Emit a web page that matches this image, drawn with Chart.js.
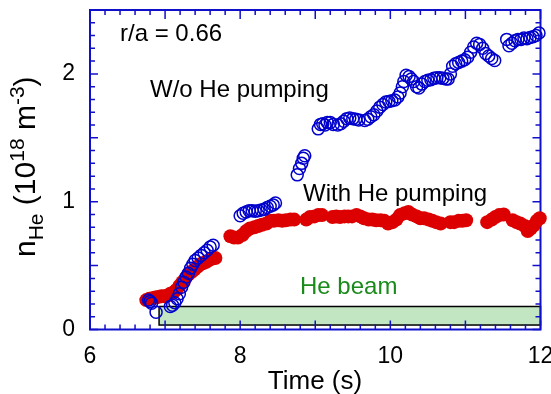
<!DOCTYPE html>
<html><head><meta charset="utf-8">
<script src="https://cdn.jsdelivr.net/npm/chart.js@4/dist/chart.umd.min.js"></script>
<style>html,body{margin:0;padding:0;background:#fff;}</style>
</head><body>
<canvas id="c" width="551" height="394"></canvas>
<script>
// ---- data ----
const blueTime = [6.78,6.80,6.82,6.88,
  7.07,7.10,7.13,7.16,7.19,7.22,7.25,7.28,7.31,7.34,7.37,7.40,7.44,7.48,7.52,7.56,7.60,7.64,
  8.00,8.04,8.08,8.12,8.16,8.20,8.24,8.28,8.32,8.36,8.40,8.44,8.47,
  8.76,8.79,8.82,8.84,8.86,
  9.04,9.07,9.10,9.13,9.16,9.20,9.24,9.30,9.34,9.38,9.42,9.46,9.50,9.54,9.58,9.66,9.70,9.74,9.78,9.82,9.86,9.90,9.94,9.98,
  10.02,10.06,10.10,10.13,10.16,10.18,10.21,10.25,10.28,10.31,10.35,10.38,10.42,10.46,10.50,10.54,10.58,10.62,10.66,10.70,10.74,10.77,
  10.80,10.83,10.87,10.91,10.95,10.99,11.03,11.07,11.11,11.15,11.19,11.23,11.27,11.31,11.35,11.39,
  11.55,11.58,11.62,11.66,11.70,11.74,11.78,11.82,11.86,11.90,11.94,11.98];
const blueDensity = [0.23,0.22,0.205,0.135,
  0.18,0.19,0.21,0.24,0.28,0.33,0.37,0.41,0.44,0.48,0.51,0.54,0.56,0.58,0.60,0.62,0.645,0.66,
  0.89,0.91,0.92,0.93,0.93,0.925,0.93,0.935,0.94,0.955,0.965,0.975,0.99,
  1.21,1.26,1.30,1.34,1.36,
  1.57,1.605,1.61,1.60,1.62,1.62,1.605,1.60,1.61,1.63,1.65,1.655,1.65,1.645,1.64,1.635,1.645,1.665,1.68,1.71,1.74,1.76,1.78,1.785,
  1.79,1.795,1.82,1.85,1.90,1.94,1.99,1.98,1.96,1.94,1.90,1.89,1.92,1.94,1.95,1.955,1.965,1.97,1.97,1.965,1.96,1.96,
  2.00,2.06,2.08,2.09,2.10,2.11,2.13,2.17,2.21,2.24,2.23,2.20,2.16,2.14,2.12,2.105,
  2.27,2.22,2.24,2.26,2.27,2.27,2.28,2.275,2.285,2.29,2.30,2.32];

const redTime = [6.75,6.79,6.83,6.87,6.91,6.95,6.99,7.03,7.07,7.11,7.15,7.19,7.23,7.27,7.31,7.35,7.39,7.43,7.47,7.51,7.55,7.59,7.63,7.67,
  7.87,7.92,7.97,8.03,8.08,8.13,8.19,8.24,8.29,8.35,8.40,8.45,8.51,8.56,8.61,8.67,8.72,
  8.88,8.93,8.99,9.04,9.09,
  9.23,9.28,9.33,9.39,9.44,9.49,9.55,9.60,9.65,9.71,9.76,9.81,9.87,9.92,9.97,10.03,10.08,10.13,10.19,10.24,10.29,10.35,10.40,10.45,10.51,10.56,10.61,10.67,
  10.80,10.85,10.91,10.96,11.01,
  11.29,11.35,11.40,11.45,11.51,
  11.63,11.68,11.73,11.79,11.83,11.87,11.91,11.95,11.99];
const redDensity = [0.23,0.24,0.245,0.25,0.255,0.26,0.26,0.265,0.28,0.29,0.31,0.34,0.37,0.40,0.43,0.45,0.47,0.49,0.51,0.52,0.53,0.545,0.555,0.56,
  0.73,0.72,0.72,0.74,0.77,0.79,0.80,0.81,0.82,0.83,0.85,0.85,0.855,0.85,0.855,0.86,0.86,
  0.86,0.88,0.885,0.895,0.895,
  0.88,0.885,0.88,0.885,0.885,0.885,0.895,0.885,0.87,0.86,0.86,0.855,0.855,0.85,0.83,0.84,0.86,0.895,0.91,0.92,0.90,0.885,0.87,0.87,0.86,0.85,0.84,0.83,
  0.84,0.84,0.85,0.85,0.855,
  0.84,0.86,0.88,0.895,0.90,
  0.855,0.84,0.83,0.81,0.77,0.79,0.815,0.85,0.87];

const xTickLabels = [6, 8, 10, 12];
const yTickLabels = [0, 1, 2];
const beamTime = [6.92, 12];
const beamLevel = [0.035, 0.18];

// ---- styling ----
const FONT = "'Liberation Sans', Arial, Helvetica, sans-serif";
const AXIS = '#1010cc';

const decor = {
  id: 'decor',
  beforeDatasetsDraw(chart) {
    const {ctx, chartArea: a, scales: {x, y}} = chart;
    ctx.save();
    // He beam box
    const bx0 = x.getPixelForValue(beamTime[0]), bx1 = x.getPixelForValue(beamTime[1]);
    const by0 = y.getPixelForValue(beamLevel[1]), by1 = y.getPixelForValue(beamLevel[0]);
    ctx.fillStyle = '#c2e6c2';
    ctx.fillRect(bx0, by0, bx1 - bx0, by1 - by0);
    ctx.strokeStyle = '#000';
    ctx.lineWidth = 1.5;
    ctx.strokeRect(bx0, by0, bx1 - bx0, by1 - by0);
    // frame
    ctx.strokeStyle = AXIS;
    ctx.lineWidth = 2;
    ctx.strokeRect(a.left, a.top, a.right - a.left, a.bottom - a.top);
    // ticks
    ctx.lineWidth = 1.5;
    ctx.beginPath();
    for (let i = 0; i <= 30; i++) {
      const v = 6 + i * 0.2;
      const px = x.getPixelForValue(v);
      const len = (i % 5 === 0) ? 9 : 5;
      ctx.moveTo(px, a.bottom); ctx.lineTo(px, a.bottom - len);
      ctx.moveTo(px, a.top); ctx.lineTo(px, a.top + len);
    }
    for (let i = 0; i <= 25; i++) {
      const v = i * 0.1;
      const py = y.getPixelForValue(v);
      const len = (i % 5 === 0) ? 8 : 5;
      ctx.moveTo(a.left, py); ctx.lineTo(a.left + len, py);
      ctx.moveTo(a.right, py); ctx.lineTo(a.right - len, py);
    }
    ctx.stroke();
    ctx.restore();
  },
  afterDraw(chart) {
    const {ctx} = chart;
    ctx.save();
    ctx.textBaseline = 'alphabetic';
    ctx.textAlign = 'left';
    ctx.fillStyle = '#000';
    ctx.font = `24px ${FONT}`;
    ctx.fillText('r/a = 0.66', 120, 41);
    ctx.fillText('W/o He pumping', 150, 97);
    ctx.fillText('With He pumping', 303, 201);
    ctx.fillStyle = '#1a8a1a';
    ctx.fillText('He beam', 300, 294);
    // x title
    ctx.fillStyle = '#000';
    ctx.font = `26px ${FONT}`;
    ctx.textAlign = 'center';
    ctx.fillText('Time (s)', 315, 389);
    // y title (rotated, with sub/superscripts)
    ctx.translate(35, 257);
    ctx.rotate(-Math.PI / 2);
    ctx.textAlign = 'left';
    const parts = [
      ['n', 30, 0], ['He', 21, 8], [' (10', 30, 0], ['18', 21, -11],
      [' m', 30, 0], ['-3', 21, -11], [')', 30, 0]
    ];
    let cx = 0;
    for (const [t, s, dy] of parts) {
      ctx.font = `${s}px ${FONT}`;
      ctx.fillText(t, cx, dy);
      cx += ctx.measureText(t).width;
    }
    ctx.restore();
  }
};

new Chart(document.getElementById('c'), {
  type: 'scatter',
  data: {
    datasets: [
      {
        label: 'W/o He pumping',
        data: blueTime.map((t, i) => ({x: t, y: blueDensity[i]})),
        pointStyle: 'circle', pointRadius: 6, pointHoverRadius: 6,
        borderColor: '#0000cc', backgroundColor: 'rgba(0,0,0,0)', borderWidth: 1.5,
        showLine: false, clip: false
      },
      {
        label: 'With He pumping',
        data: redTime.map((t, i) => ({x: t, y: redDensity[i]})),
        pointStyle: 'circle', pointRadius: 7, pointHoverRadius: 7,
        borderColor: '#dd0000', backgroundColor: '#dd0000', borderWidth: 0,
        showLine: false, clip: false
      }
    ]
  },
  options: {
    responsive: false, animation: false, devicePixelRatio: 1,
    layout: {padding: {top: 10, right: 10.5, left: 0, bottom: 0}},
    plugins: {legend: {display: false}, tooltip: {enabled: false}},
    scales: {
      x: {
        type: 'linear', min: 6, max: 12,
        grid: {display: false, drawTicks: false}, border: {display: false},
        afterBuildTicks: s => { s.ticks = xTickLabels.map(v => ({value: v})); },
        afterFit: s => { s.height = 64.5; s.paddingLeft = 0; s.paddingRight = 0; },
        ticks: {font: {family: FONT, size: 23}, color: '#000', padding: 13, maxRotation: 0, autoSkip: false}
      },
      y: {
        type: 'linear', min: 0, max: 2.5,
        grid: {display: false, drawTicks: false}, border: {display: false},
        afterBuildTicks: s => { s.ticks = yTickLabels.map(v => ({value: v})); },
        afterFit: s => { s.width = 90; s.paddingTop = 0; s.paddingBottom = 0; },
        ticks: {font: {family: FONT, size: 23}, color: '#000', padding: 15, autoSkip: false}
      }
    }
  },
  plugins: [decor]
});
</script>
</body></html>
